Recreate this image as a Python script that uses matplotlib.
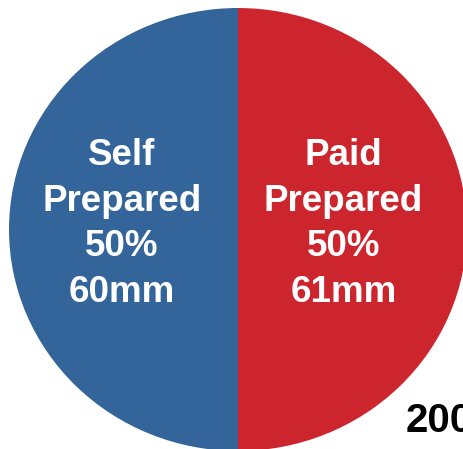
import matplotlib
matplotlib.use('Agg')
import matplotlib.pyplot as plt

plt.rcParams['font.family'] = ['Liberation Sans', 'DejaVu Sans']

# data
categories = ['Self\nPrepared', 'Paid\nPrepared']
shares = [50, 50]          # percent
amounts_mm = [60, 61]      # millions
colors = ['#34659A', '#CD252D']
corner_text = '200'


def plot_pie():
    fig = plt.figure(figsize=(4.63, 4.49), dpi=100)
    # axes box matches the slightly oval pie of the original
    ax = fig.add_axes([9 / 463, -2 / 449, 458 / 463, 443 / 449])
    ax.pie(shares, colors=colors, startangle=90, counterclock=True,
           radius=1, wedgeprops={'linewidth': 0})
    ax.set_aspect('auto')
    ax.set_xlim(-1, 1)
    ax.set_ylim(-1, 1)

    label_x = [-0.507, 0.46]
    for x, cat, pct, mm in zip(label_x, categories, shares, amounts_mm):
        ax.text(x, 0.025, f'{cat}\n{pct}%\n{mm}mm', ha='center', va='center',
                color='white', fontsize=26.5, fontweight='bold',
                linespacing=1.39)

    fig.text(406 / 463, 1 - 432 / 449, corner_text, ha='left', va='baseline',
             fontsize=29, fontweight='bold', color='black')

    fig.savefig('out.png', dpi=100)


if __name__ == '__main__':
    plot_pie()
